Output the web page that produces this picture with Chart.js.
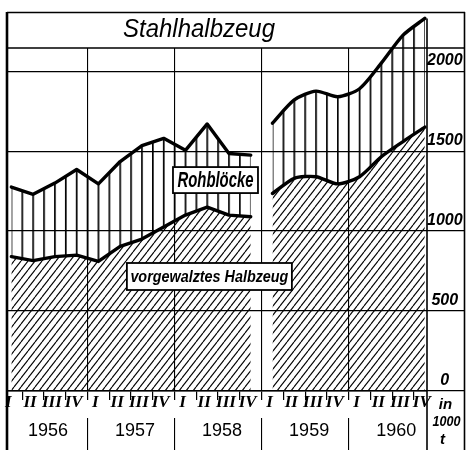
<!DOCTYPE html>
<html><head><meta charset="utf-8">
<script src="https://cdn.jsdelivr.net/npm/chart.js@4/dist/chart.umd.min.js"></script>
<style>html,body{margin:0;padding:0;background:#fff;}canvas{display:block;}</style>
</head><body>
<canvas id="c" width="472" height="450"></canvas>
<script>
// ---- data (in 1000 t) ----
const years = ['1956', '1957', '1958', '1959', '1960'];
const quarterNames = ['I', 'II', 'III', 'IV'];
const quarters = years.flatMap(y => quarterNames.map(q => q + '/' + y));
const halbzeug   = [840, 815, 840, 850, 810, 905, 950, 1025, 1100, 1150, 1100, 1090, 1235, 1330, 1340, 1295, 1340, 1465, 1560, 1650];
const rohbloecke = [435, 415, 460, 535, 485, 530, 585, 555, 405, 520, 385, 385, 440, 490, 535, 545, 550, 585, 665, 680];
const yTicks = [0, 500, 1000, 1500, 2000];
const runs = [[0, 12], [12, 20]]; // 1956–1958 and 1959–1960 are drawn as separate runs
const titleText = 'Stahlhalbzeug';
const labelRoh = 'Rohblöcke';
const labelHalb = 'vorgewalztes Halbzeug';
const unitLines = ['in', '1000', 't'];

// ---- derived ----
const totals = halbzeug.map((v, i) => v + rohbloecke[i]);
const qPos = i => i + 0.5;               // quarter centre on the linear x scale
const yearPos = i => i * 4 + 2;          // year centre on the linear x scale

const canvas = document.getElementById('c');
const mainCtx = canvas.getContext('2d');

function diagPattern() {
  const t = document.createElement('canvas'); t.width = 7; t.height = 9;
  const g = t.getContext('2d');
  g.strokeStyle = '#000'; g.lineWidth = 1.1;
  for (const x0 of [-7, 0, 7]) { g.beginPath(); g.moveTo(x0, 9); g.lineTo(x0 + 7, 0); g.stroke(); }
  return mainCtx.createPattern(t, 'repeat');
}
function vertPattern() {
  const t = document.createElement('canvas'); t.width = 11; t.height = 4;
  const g = t.getContext('2d');
  g.fillStyle = '#000'; g.fillRect(0, 0, 1.7, 4);
  return mainCtx.createPattern(t, 'repeat');
}
const diag = diagPattern();
const vert = vertPattern();

const datasets = [];
runs.forEach(([a, b], k) => {
  const idx = [];
  for (let i = a; i < b; i++) idx.push(i);
  const common = { borderColor: '#000', borderWidth: 3.4, pointRadius: 0, borderJoinStyle: 'round', borderCapStyle: 'round', tension: k ? 0.25 : 0 };
  datasets.push(Object.assign({ label: labelHalb, data: idx.map(i => ({ x: qPos(i), y: halbzeug[i] })), fill: 'origin', backgroundColor: diag }, common));
  datasets.push(Object.assign({ label: labelRoh, data: idx.map(i => ({ x: qPos(i), y: totals[i] })), fill: '-1', backgroundColor: vert }, common));
});

function drawScaledText(ctx, text, cx, cy, font, targetW, baseline) {
  ctx.save();
  ctx.font = font;
  const w = ctx.measureText(text).width;
  const s = targetW ? Math.min(1, targetW / w) : 1;
  ctx.translate(cx, cy);
  ctx.scale(s, 1);
  ctx.textAlign = 'center';
  ctx.textBaseline = baseline || 'middle';
  ctx.fillStyle = '#000';
  ctx.fillText(text, 0, 0);
  ctx.restore();
}

function labelBox(ctx, text, cx, cy, w, h, font, tw) {
  ctx.save();
  ctx.fillStyle = '#fff';
  ctx.fillRect(cx - w / 2, cy - h / 2, w, h);
  ctx.strokeStyle = '#000'; ctx.lineWidth = 1.8;
  ctx.strokeRect(cx - w / 2, cy - h / 2, w, h);
  ctx.restore();
  drawScaledText(ctx, text, cx, cy + 1, font, tw);
}

const decor = {
  id: 'decor',
  beforeDatasetsDraw(chart) {
    const { ctx, chartArea: ca, scales: { x, y } } = chart;
    // align vertical hatching with the quarter points
    const step = (x.getPixelForValue(qPos(1)) - x.getPixelForValue(qPos(0))) / 2;
    const sx = step / 11;
    vert.setTransform(new DOMMatrix([sx, 0, 0, 1, x.getPixelForValue(qPos(0)) - 0.85 * sx, 0]));
    // title box
    const right = y.right;
    const tb = ca.top + 36;
    ctx.save();
    ctx.fillStyle = '#fff';
    ctx.fillRect(ca.left, ca.top, right - ca.left, tb - ca.top);
    ctx.strokeStyle = '#000'; ctx.lineWidth = 1.5;
    ctx.beginPath();
    ctx.moveTo(ca.left, ca.top + 0.5); ctx.lineTo(right, ca.top + 0.5);
    ctx.moveTo(ca.left, tb); ctx.lineTo(right, tb);
    ctx.stroke();
    ctx.restore();
    drawScaledText(ctx, titleText, 199, ca.top + 24.5, 'italic 26px "Liberation Sans"', 152, 'alphabetic');
  },
  afterDatasetsDraw(chart) {
    const { ctx, chartArea: ca, scales: { x, y } } = chart;
    const H = chart.height;
    const right = y.right;
    ctx.save();
    ctx.strokeStyle = '#000';
    // right edge of the plot / label column separator
    ctx.lineWidth = 1.6;
    ctx.beginPath();
    ctx.moveTo(ca.right, y.getPixelForValue(totals[totals.length - 1]));
    ctx.lineTo(ca.right, H);
    ctx.stroke();
    // outer frame
    ctx.lineWidth = 2.6;
    ctx.beginPath(); ctx.moveTo(ca.left, ca.top); ctx.lineTo(ca.left, H); ctx.stroke();
    ctx.lineWidth = 1.6;
    ctx.beginPath(); ctx.moveTo(right - 0.5, ca.top); ctx.lineTo(right - 0.5, H); ctx.stroke();
    ctx.restore();
    // series labels
    labelBox(ctx, labelRoh, x.getPixelForValue(9.88), y.getPixelForValue(1319), 85, 26, 'italic bold 22px "Liberation Sans"', 76);
    labelBox(ctx, labelHalb, x.getPixelForValue(9.6), y.getPixelForValue(716), 165, 27, 'italic bold 16px "Liberation Sans"', 158);
    // unit
    const ux = (ca.right + right) / 2 + 0.5;
    drawScaledText(ctx, unitLines[0], ux - 1, ca.bottom + 14, 'italic bold 15px "Liberation Sans"');
    drawScaledText(ctx, unitLines[1], ux, ca.bottom + 31, 'italic bold 15px "Liberation Sans"', 28);
    drawScaledText(ctx, unitLines[2], ux - 4, ca.bottom + 49, 'italic bold 15px "Liberation Sans"');
  }
};

new Chart(canvas, {
  type: 'line',
  data: { datasets },
  plugins: [decor],
  options: {
    responsive: false,
    animation: false,
    devicePixelRatio: 1,
    layout: { padding: { left: 7, right: 7, top: 12, bottom: 0 } },
    plugins: { legend: { display: false }, tooltip: { enabled: false }, title: { display: false } },
    scales: {
      x: {
        type: 'linear', position: 'bottom', min: 0.3, max: 19.6, bounds: 'data', weight: 0,
        afterBuildTicks: s => { s.ticks = quarters.map((q, i) => ({ value: qPos(i) })); },
        afterFit: s => { s.height = 27; },
        ticks: {
          autoSkip: false, maxRotation: 0, minRotation: 0, padding: -8, labelOffset: -3, color: '#000',
          font: { family: 'Liberation Serif', size: 17, style: 'italic', weight: 'bold' },
          callback: (v, i) => quarterNames[i % 4]
        },
        grid: { offset: true, drawOnChartArea: false, drawTicks: true, tickLength: 9, color: '#000', lineWidth: 1.2 },
        border: { display: true, color: '#000', width: 1.6 }
      },
      x2: {
        type: 'linear', position: 'bottom', min: 0.3, max: 19.6, bounds: 'data', weight: 1,
        afterBuildTicks: s => { s.ticks = years.map((yr, i) => ({ value: yearPos(i) })); },
        afterFit: s => { s.height = 32; },
        ticks: {
          autoSkip: false, maxRotation: 0, minRotation: 0, padding: -30, labelOffset: 4, color: '#000',
          font: { family: 'Liberation Sans', size: 18 },
          callback: (v, i) => years[i]
        },
        grid: { offset: true, drawOnChartArea: true, drawTicks: true, tickLength: 32, color: '#000', lineWidth: 1.1 },
        border: { display: false }
      },
      y: {
        type: 'linear', position: 'right', min: 0, max: 2370,
        afterBuildTicks: s => { s.ticks = yTicks.map(v => ({ value: v })); },
        afterFit: s => { s.width = 38; },
        ticks: {
          crossAlign: 'center', padding: -38, labelOffset: -10.5, color: '#000',
          font: { family: 'Liberation Sans', size: 16, style: 'italic', weight: 'bold' },
          callback: v => String(v)
        },
        grid: { drawTicks: true, tickLength: 38, color: '#000', lineWidth: 1.2 },
        border: { display: false }
      }
    }
  }
});
</script>
</body></html>
